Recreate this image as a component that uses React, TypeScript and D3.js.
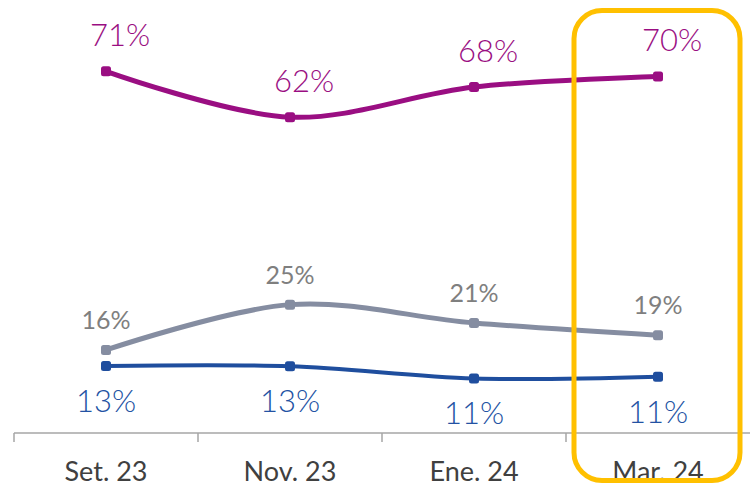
import React from "react";
import * as d3 from "d3";

const categories = ["Set. 23", "Nov. 23", "Ene. 24", "Mar. 24"];
const purpleValues = [71, 62, 67.9, 70];
const purpleLabels = ["71%", "62%", "68%", "70%"];
const grayValues = [16.3, 25.2, 21.6, 19.2];
const grayLabels = ["16%", "25%", "21%", "19%"];
const blueValues = [13.15, 13.1, 10.7, 11.05];
const blueLabels = ["13%", "13%", "11%", "11%"];
const highlighted = "Mar. 24";

const W = 750;
const H = 486;

const App = () => {
  const x = d3.scaleBand<string>().domain(categories).range([14, W]);
  const y = d3.scaleLinear().domain([0, 85]).range([433, 0]);
  const cx = (c: string) => (x(c) as number) + x.bandwidth() / 2;

  // Excel-style smoothed line
  const line = d3
    .line<number>()
    .x((_, i) => cx(categories[i]))
    .y((v) => y(v))
    .curve(d3.curveCardinal.tension(0));

  const series = [
    { values: purpleValues, labels: purpleLabels, color: "#9A0E82", label: "#9A0E82", width: 5, dx: 14, dy: -25, font: 31, weight: 300 },
    { values: grayValues, labels: grayLabels, color: "#858DA1", label: "#7F7F7F", width: 5, dx: 0, dy: -21, font: 25, weight: 400 },
    { values: blueValues, labels: blueLabels, color: "#1F4E9E", label: "#2352A3", width: 4, dx: 0, dy: 46, font: 31, weight: 300 },
  ];

  const hx = x(highlighted) as number;

  return (
    <svg width={W} height={H} style={{ position: "absolute", left: 0, top: 0 }}>
      <rect width={W} height={H} fill="#fff" />
      {/* axis */}
      <line x1={14} x2={W} y1={y(0)} y2={y(0)} stroke="#A6A6A6" strokeWidth={1.5} />
      {categories.map((c) => (
        <line key={c} x1={x(c)} x2={x(c)} y1={y(0)} y2={y(0) + 9} stroke="#A6A6A6" strokeWidth={1.5} />
      ))}
      {categories.map((c) => (
        <text key={c} x={cx(c)} y={481} textAnchor="middle" fontFamily="Lato" fontSize={27} fill="#404040">
          {c}
        </text>
      ))}
      {series.map((s, si) => (
        <g key={si}>
          <path d={line(s.values) || ""} fill="none" stroke={s.color} strokeWidth={s.width} />
          {s.values.map((v, i) => (
            <rect key={i} x={cx(categories[i]) - 5} y={y(v) - 5} width={10} height={10} rx={2.5} fill={s.color} />
          ))}
          {s.values.map((v, i) => (
            <text
              key={"t" + i}
              x={cx(categories[i]) + s.dx}
              y={y(v) + s.dy}
              textAnchor="middle"
              fontFamily="Lato"
              fontWeight={s.weight}
              fontSize={s.font}
              fill={s.label}
            >
              {s.labels[i]}
            </text>
          ))}
        </g>
      ))}
      {/* highlight box */}
      <rect x={hx + 8} y={10.5} width={166} height={470} rx={28} fill="none" stroke="#FFC000" strokeWidth={5} />
    </svg>
  );
};

export default App;
